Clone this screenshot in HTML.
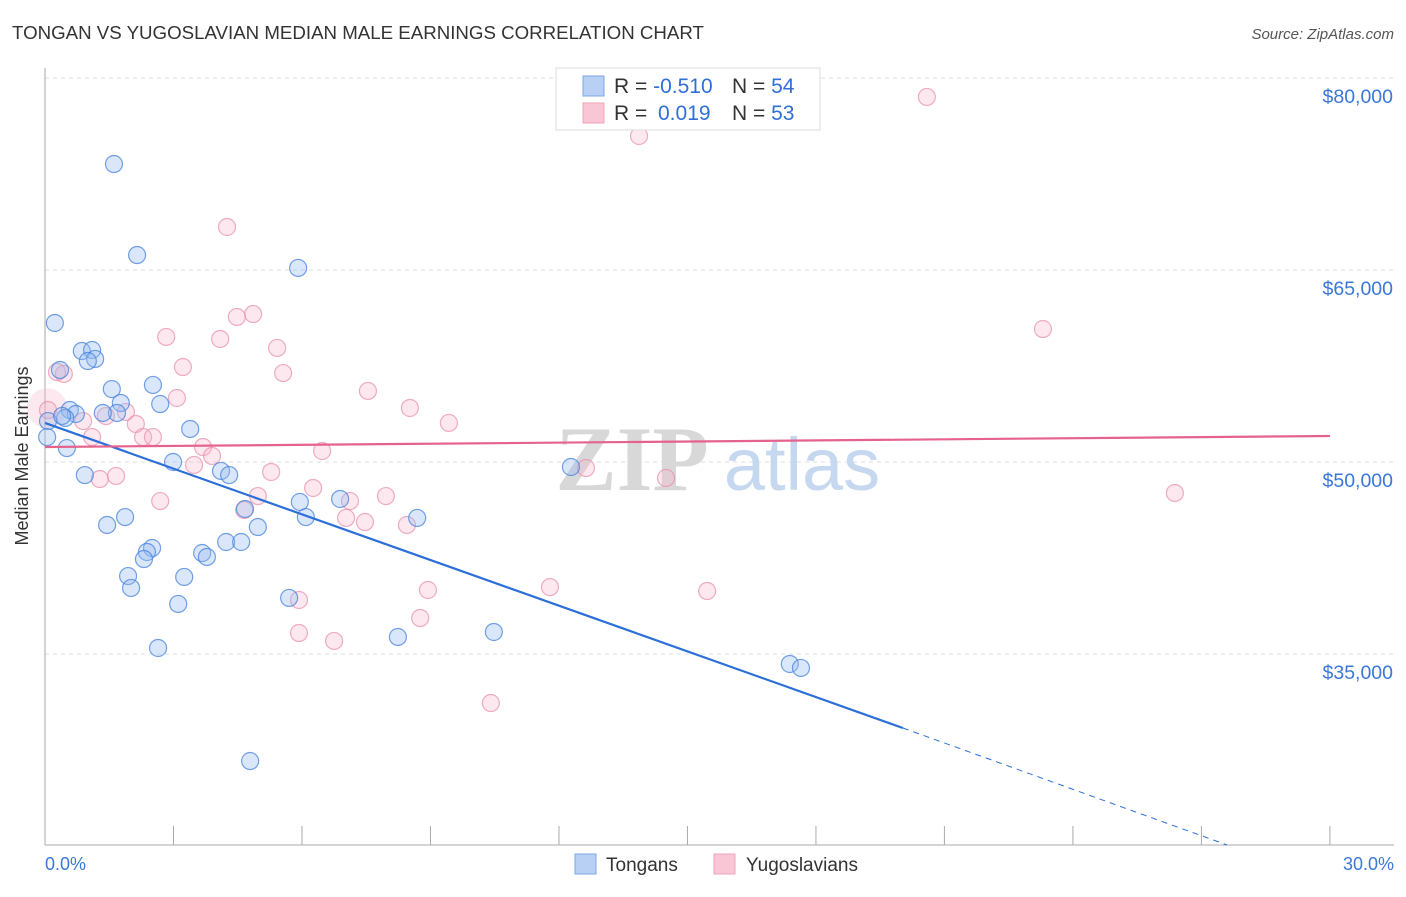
<!DOCTYPE html>
<html><head><meta charset="utf-8"><style>
body{margin:0;background:#fff;font-family:"Liberation Sans",sans-serif;}
</style></head><body>
<svg id="chart" width="1406" height="892" xmlns="http://www.w3.org/2000/svg">
<text x="12" y="39" font-size="18.7" fill="#333">TONGAN VS YUGOSLAVIAN MEDIAN MALE EARNINGS CORRELATION CHART</text>
<text x="1394" y="39" font-size="15" fill="#555" font-style="italic" text-anchor="end">Source: ZipAtlas.com</text>
<g id="grid"></g>
<g>
<text x="632" y="490" font-size="92" fill="#d8d8d8" font-family="Liberation Serif,serif" text-anchor="middle" font-weight="bold">ZIP</text>
<text x="802" y="490" font-size="74" fill="#c6d8f0" text-anchor="middle">atlas</text>
</g>
<line x1="45" y1="68" x2="45" y2="845" stroke="#aaa"/>
<line x1="45" y1="845" x2="1394" y2="845" stroke="#aaa"/>
<g id="xticks"></g>
<text x="28" y="456" font-size="18" fill="#333" text-anchor="middle" transform="rotate(-90 28 456)">Median Male Earnings</text>
<text x="45" y="870" font-size="18" fill="#3a78d8">0.0%</text>
<text x="1394" y="870" font-size="18" fill="#3a78d8" text-anchor="end">30.0%</text>
<g id="pts"></g>
<g id="lines"></g>
<g>
<rect x="556" y="68" width="264" height="62" fill="#fff" stroke="#ddd"/>
<rect x="583" y="76" width="21" height="20" fill="#b7d0f3" stroke="#7ea7e3"/>
<rect x="583" y="103" width="21" height="20" fill="#f9c6d5" stroke="#eea4bb"/>
<text font-size="21" fill="#333"><tspan x="614" y="93">R = </tspan><tspan fill="#2f6fd6">-0.510</tspan><tspan x="732" y="93">N = </tspan><tspan fill="#2f6fd6">54</tspan></text>
<text font-size="21" fill="#333"><tspan x="614" y="120">R = </tspan><tspan x="658" fill="#2f6fd6">0.019</tspan><tspan x="732" y="120">N = </tspan><tspan fill="#2f6fd6">53</tspan></text>
</g>
<g>
<rect x="575" y="854" width="21" height="20" fill="#b7d0f3" stroke="#7ea7e3"/>
<text x="606" y="871" font-size="19" fill="#333">Tongans</text>
<rect x="714" y="854" width="21" height="20" fill="#f9c6d5" stroke="#eea4bb"/>
<text x="746" y="871" font-size="19" fill="#333">Yugoslavians</text>
</g>
</svg>
<script>
const yTicks=[35000,50000,65000,80000];
const yTickLabels=["$35,000","$50,000","$65,000","$80,000"];
const xTicks=[0,3,6,9,12,15,18,21,24,27,30];
const bluePct=[1.61,2.15,5.91,0.23,0.86,1.10,1.17,1.00,0.35,1.56,2.52,1.77,2.69,1.68,0.58,0.72,1.35,0.47,0.07,3.39,0.05,0.51,2.99,4.11,4.30,0.93,12.28,4.67,5.95,6.09,6.89,8.69,1.87,1.45,4.97,4.23,4.58,2.50,2.38,2.31,3.67,3.78,1.94,3.25,2.01,3.11,5.70,8.24,10.48,2.64,17.39,17.65,4.79,0.40];
const blueVal=[73.28,66.17,65.16,60.86,58.67,58.75,58.05,57.89,57.19,55.70,56.02,54.61,54.53,53.83,54.06,53.75,53.83,53.44,53.20,52.58,51.95,51.09,50.00,49.30,48.98,48.98,49.61,46.33,46.88,45.70,47.11,45.63,45.70,45.08,44.92,43.75,43.75,43.28,42.97,42.42,42.89,42.58,41.09,41.02,40.16,38.91,39.38,36.33,36.72,35.47,34.22,33.91,26.64,53.60];
const pinkPct=[20.59,13.87,4.25,4.86,4.48,23.30,2.83,4.09,5.42,3.22,5.56,0.44,0.28,7.54,3.08,8.52,1.89,1.42,0.89,9.43,2.12,1.10,2.29,2.52,3.69,3.90,6.47,3.48,5.28,12.63,14.50,1.28,1.66,6.26,4.97,7.96,7.12,26.38,2.69,4.65,7.03,7.47,8.45,8.94,11.79,15.46,8.76,5.93,6.75,10.41,5.93,0.07];
const pinkVal=[78.52,75.47,68.36,61.56,61.33,60.39,59.77,59.61,58.91,57.42,56.95,56.88,57.03,55.55,55.00,54.22,53.91,53.59,53.20,53.05,52.97,51.95,51.95,51.95,51.17,50.47,50.86,49.77,49.22,49.53,48.75,48.67,48.91,47.97,47.34,47.34,46.95,47.58,46.95,46.25,45.63,45.31,45.08,40.00,40.23,39.92,37.81,36.64,36.02,31.17,39.22,54.06];
const blueTrend=[[0,53.05],[20.03,29.22],[27.6,20.08]];
const pinkTrend=[[0,51.17],[30,52.03]];
const X=p=>45+p*42.83;
const Y=v=>462-(v-50000)*0.0128;
const NS="http://www.w3.org/2000/svg";
function mk(tag,attrs,parent){const e=document.createElementNS(NS,tag);for(const k in attrs)e.setAttribute(k,attrs[k]);document.getElementById(parent).appendChild(e);return e;}
yTicks.forEach((t,i)=>{
 const l=mk('line',{x1:45,x2:1394,y1:Y(t),y2:Y(t),stroke:'#ddd','stroke-dasharray':'4 4'},'grid');
 
 
 const tx=mk('text',{x:1393,y:Y(t)+25,'font-size':19.5,fill:'#3a78d8','text-anchor':'end'},'grid');
 tx.textContent=yTickLabels[i];
 
 
});
const gt=mk('line',{x1:45,x2:1394,y1:78,y2:78,stroke:'#ddd','stroke-dasharray':'4 4'},'grid');


xTicks.forEach(t=>{
 const l=mk('line',{x1:X(t),x2:X(t),y1:826,y2:845,stroke:'#aaa'},'xticks');
 
 
});
const big=mk('circle',{cx:X(0.05),cy:Y(54200),r:20,fill:'rgba(246,180,200,0.3)',stroke:'none'},'pts');


pinkPct.forEach((p,i)=>{
 const c=mk('circle',{cx:X(p),cy:Y(pinkVal[i]*1000),r:8.5,fill:'rgba(246,180,200,0.3)',stroke:'rgba(232,140,170,0.7)','stroke-width':1.2},'pts');
 
 
});
bluePct.forEach((p,i)=>{
 const c=mk('circle',{cx:X(p),cy:Y(blueVal[i]*1000),r:8.5,fill:'rgba(150,185,240,0.35)',stroke:'rgba(70,130,220,0.75)','stroke-width':1.2},'pts');
 
 
});
const b1=mk('line',{x1:X(blueTrend[0][0]),y1:Y(blueTrend[0][1]*1000),x2:X(blueTrend[1][0]),y2:Y(blueTrend[1][1]*1000),stroke:'#2c6fd8','stroke-width':2.2},'lines');


const b2=mk('line',{x1:X(blueTrend[1][0]),y1:Y(blueTrend[1][1]*1000),x2:X(blueTrend[2][0]),y2:Y(blueTrend[2][1]*1000),stroke:'#2c6fd8','stroke-width':1,'stroke-dasharray':'6 5'},'lines');


const p1=mk('line',{x1:X(pinkTrend[0][0]),y1:Y(pinkTrend[0][1]*1000),x2:X(pinkTrend[1][0]),y2:Y(pinkTrend[1][1]*1000),stroke:'#e5628c','stroke-width':2.2},'lines');


</script>
</body></html>
